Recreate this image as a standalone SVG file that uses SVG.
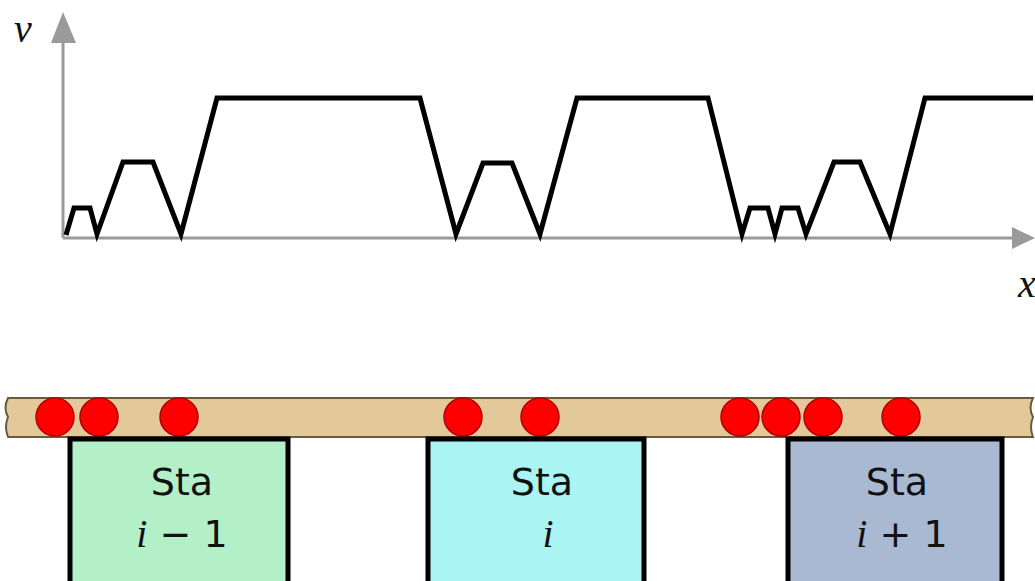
<svg xmlns="http://www.w3.org/2000/svg" width="1035" height="581" viewBox="0 0 1035 581">
<defs>
<style>
.axis{stroke:#9a9a9a;stroke-width:3;fill:none}
.arrow{fill:#9a9a9a}
.curve{stroke:#000;stroke-width:5;fill:none;stroke-linejoin:miter}
.dot{fill:#ff0000;stroke:#b00000;stroke-width:1.5}
.box{stroke:#000;stroke-width:5}
.lbl{font-family:"DejaVu Sans","Liberation Sans",sans-serif;font-size:38px;fill:#111;text-anchor:middle}
.ital{font-family:"Liberation Serif",serif;font-style:italic;font-size:40px;fill:#111}
</style>
</defs>
<rect width="1035" height="581" fill="#fff"/>
<g id="axes">
<line class="axis" x1="63" y1="238" x2="63" y2="35"/>
<polygon class="arrow" points="63,12 51,43 76,43"/>
<line class="axis" x1="63" y1="238" x2="1020" y2="238"/>
<polygon class="arrow" points="1035,238 1012,227 1012,249"/>
<text class="ital" x="14" y="42" font-size="36">v</text>
<text class="ital" x="1018" y="297" font-size="36">x</text>
</g>
<g id="curve">
<polyline class="curve" points="66,235 74,208 90,208 97,234 123,162 153,162 181,234 217,98 420,98 456,234 483,163 512,163 540,234 577,98 708,98 742,234 750,208 768,208 775,234 782,208 798,208 806,234 834,162 860,162 890,234 925,98 1033,98"/>
</g>
<g id="track">
<path d="M8,398 L1033,398 Q1028,408 1033,417 Q1029,427 1033,437 L8,437 Q4,427 8,417 Q3,408 8,398 Z" fill="#e3c99a" stroke="#6b5a3e" stroke-width="2"/>
<circle class="dot" cx="55" cy="417" r="19"/>
<circle class="dot" cx="99" cy="417" r="19"/>
<circle class="dot" cx="179" cy="417" r="19"/>
<circle class="dot" cx="463" cy="417" r="19"/>
<circle class="dot" cx="540" cy="417" r="19"/>
<circle class="dot" cx="740" cy="417" r="19"/>
<circle class="dot" cx="781" cy="417" r="19"/>
<circle class="dot" cx="823" cy="417" r="19"/>
<circle class="dot" cx="901" cy="417" r="19"/>
</g>
<g id="sta-im1">
<rect class="box" x="70" y="439" width="218" height="145" fill="#b3f0c8"/>
<text class="lbl" x="182" y="495">Sta</text>
<text x="182" y="547" text-anchor="middle"><tspan class="ital" font-size="40">i</tspan><tspan font-family="DejaVu Sans,sans-serif" font-size="38" fill="#111"> − 1</tspan></text>
</g>
<g id="sta-i">
<rect class="box" x="428" y="439" width="216" height="145" fill="#aaf4f4"/>
<text class="lbl" x="542" y="495">Sta</text>
<text class="ital" x="548" y="547" text-anchor="middle">i</text>
</g>
<g id="sta-ip1">
<rect class="box" x="788" y="439" width="214" height="145" fill="#a9b9d2"/>
<text class="lbl" x="897" y="495">Sta</text>
<text x="902" y="547" text-anchor="middle"><tspan class="ital" font-size="40">i</tspan><tspan font-family="DejaVu Sans,sans-serif" font-size="38" fill="#111"> + 1</tspan></text>
</g>
</svg>
